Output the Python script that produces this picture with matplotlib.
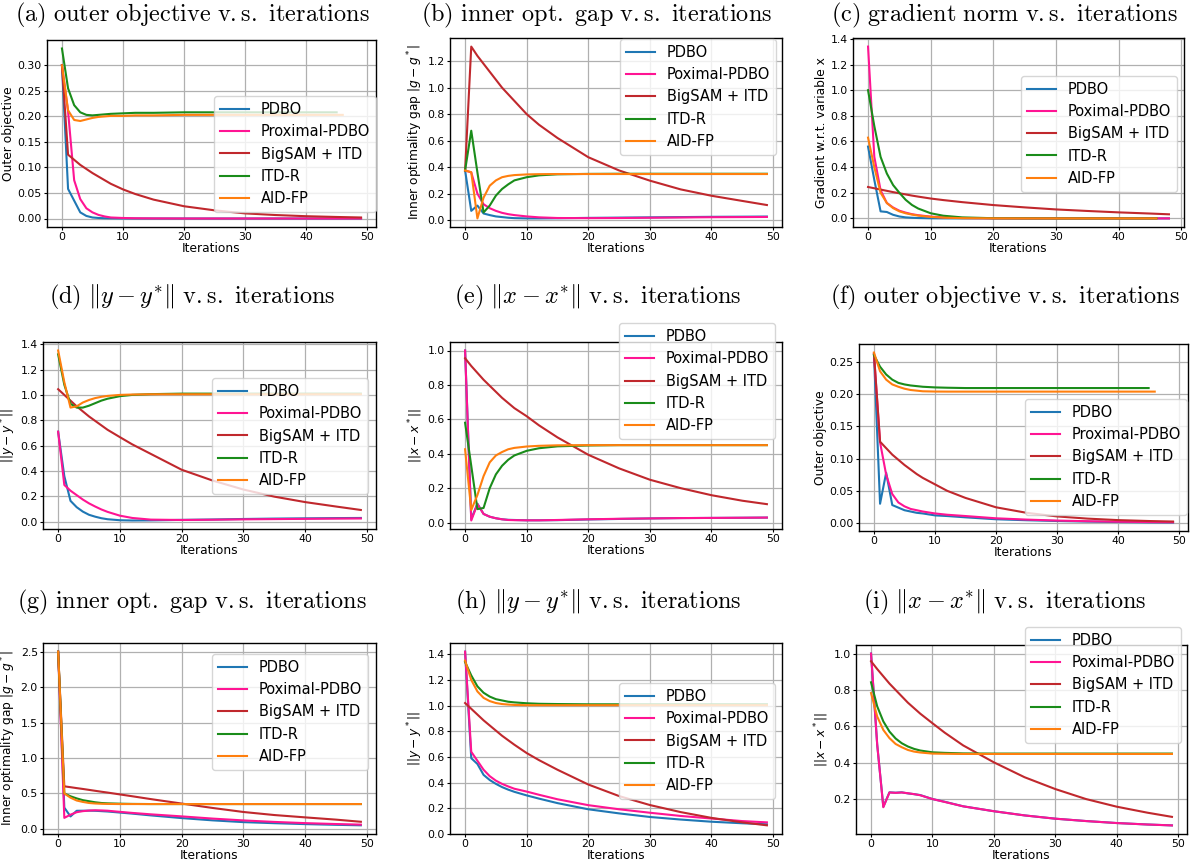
import matplotlib
matplotlib.use("Agg")
import matplotlib.pyplot as plt

plt.rcParams['mathtext.fontset'] = 'dejavusans'

W, H = 1193, 867

# ---------------- sample iterations ----------------
X49 = [0, 1, 2, 3, 4, 5, 6, 7, 8, 10, 12, 15, 20, 25, 30, 35, 40, 45, 49]
X48 = [0, 1, 2, 3, 4, 5, 6, 7, 8, 10, 12, 15, 20, 25, 30, 35, 40, 45, 48]
X46 = [0, 1, 2, 3, 4, 5, 6, 7, 8, 10, 12, 15, 20, 25, 30, 35, 40, 46]
X45 = [0, 1, 2, 3, 4, 5, 6, 7, 8, 10, 12, 15, 20, 25, 30, 35, 40, 45]

# ---------------- (a) outer objective ----------------
A_PDBO = [0.30, 0.058, 0.035, 0.012, 0.005, 0.002, 0.001, 0.0005, 0.0003, 0.0001, 0, 0, 0, 0, 0, 0, 0, 0, 0]
A_PROX = [0.30, 0.21, 0.075, 0.038, 0.02, 0.012, 0.007, 0.004, 0.002, 0.001, 0.0005, 0.0002, 0, 0, 0, 0, 0, 0, 0]
A_BIG = [0.30, 0.125, 0.115, 0.105, 0.097, 0.089, 0.082, 0.075, 0.068, 0.057, 0.048, 0.037, 0.024, 0.016, 0.010, 0.0068, 0.0045, 0.003, 0.002]
A_ITDR = [0.333, 0.255, 0.222, 0.208, 0.203, 0.202, 0.203, 0.204, 0.205, 0.206, 0.207, 0.207, 0.208, 0.208, 0.208, 0.208, 0.208, 0.208]
A_AID = [0.30, 0.212, 0.193, 0.191, 0.194, 0.197, 0.199, 0.200, 0.201, 0.201, 0.202, 0.202, 0.203, 0.203, 0.203, 0.203, 0.203, 0.203]

# ---------------- (b) inner opt. gap ----------------
B_PDBO = [0.375, 0.07, 0.11, 0.05, 0.038, 0.028, 0.023, 0.018, 0.015, 0.013, 0.013, 0.014, 0.017, 0.019, 0.021, 0.023, 0.025, 0.026, 0.027]
B_PROX = [0.375, 0.36, 0.2, 0.12, 0.09, 0.07, 0.055, 0.045, 0.038, 0.028, 0.021, 0.016, 0.015, 0.016, 0.018, 0.02, 0.022, 0.023, 0.024]
B_BIG = [0.375, 1.31, 1.24, 1.18, 1.12, 1.06, 1.0, 0.95, 0.90, 0.80, 0.72, 0.62, 0.475, 0.375, 0.298, 0.232, 0.184, 0.145, 0.114]
B_ITDR = [0.375, 0.675, 0.36, 0.058, 0.11, 0.185, 0.235, 0.27, 0.30, 0.324, 0.338, 0.346, 0.349, 0.35, 0.35, 0.35, 0.35, 0.35, 0.35]
B_AID = [0.375, 0.362, 0.013, 0.17, 0.26, 0.30, 0.324, 0.334, 0.34, 0.345, 0.347, 0.348, 0.348, 0.348, 0.348, 0.348, 0.348, 0.348, 0.348]

# ---------------- (c) gradient norm ----------------
C_PDBO = [0.56, 0.30, 0.055, 0.05, 0.028, 0.015, 0.008, 0.005, 0.003, 0.001, 0.0005, 0, 0, 0, 0, 0, 0, 0, 0]
C_PROX = [1.34, 0.48, 0.22, 0.12, 0.085, 0.06, 0.045, 0.033, 0.025, 0.014, 0.008, 0.003, 0.001, 0, 0, 0, 0, 0, 0]
C_BIG = [0.245, 0.235, 0.225, 0.215, 0.205, 0.196, 0.187, 0.178, 0.170, 0.155, 0.143, 0.127, 0.104, 0.086, 0.07, 0.058, 0.047, 0.038, 0.032]
C_ITDR = [1.0, 0.72, 0.48, 0.35, 0.26, 0.2, 0.145, 0.105, 0.077, 0.04, 0.021, 0.008, 0.0015, 0.0005, 0, 0, 0, 0]
C_AID = [0.63, 0.4, 0.2, 0.12, 0.08, 0.055, 0.04, 0.03, 0.022, 0.012, 0.006, 0.002, 0.0005, 0, 0, 0, 0, 0]

# ---------------- (d) ||y - y*|| ----------------
D_PDBO = [0.71, 0.36, 0.165, 0.115, 0.08, 0.055, 0.04, 0.028, 0.02, 0.012, 0.01, 0.011, 0.015, 0.018, 0.022, 0.025, 0.027, 0.029, 0.03]
D_PROX = [0.71, 0.29, 0.245, 0.21, 0.175, 0.145, 0.12, 0.097, 0.078, 0.048, 0.03, 0.017, 0.014, 0.016, 0.019, 0.021, 0.023, 0.025, 0.026]
D_BIG = [1.045, 1.0, 0.955, 0.91, 0.87, 0.83, 0.795, 0.76, 0.725, 0.667, 0.61, 0.535, 0.41, 0.325, 0.254, 0.198, 0.155, 0.12, 0.093]
D_ITDR = [1.32, 1.08, 0.93, 0.9, 0.9, 0.915, 0.935, 0.955, 0.97, 0.99, 1.0, 1.006, 1.01, 1.01, 1.01, 1.01, 1.01, 1.01, 1.01]
D_AID = [1.35, 1.1, 0.9, 0.91, 0.94, 0.96, 0.975, 0.985, 0.992, 1.0, 1.003, 1.005, 1.005, 1.005, 1.005, 1.005, 1.005, 1.005, 1.005]

# ---------------- (e) ||x - x*|| ----------------
E_PDBO = [1.0, 0.02, 0.11, 0.05, 0.034, 0.025, 0.019, 0.016, 0.015, 0.013, 0.013, 0.014, 0.018, 0.021, 0.024, 0.026, 0.027, 0.028, 0.029]
E_PROX = [1.0, 0.012, 0.107, 0.05, 0.034, 0.025, 0.019, 0.015, 0.014, 0.013, 0.013, 0.015, 0.019, 0.022, 0.024, 0.026, 0.027, 0.028, 0.029]
E_BIG = [0.955, 0.91, 0.87, 0.83, 0.795, 0.76, 0.725, 0.695, 0.665, 0.618, 0.565, 0.495, 0.394, 0.315, 0.249, 0.20, 0.159, 0.127, 0.107]
E_ITDR = [0.58, 0.33, 0.078, 0.085, 0.2, 0.28, 0.33, 0.365, 0.39, 0.417, 0.432, 0.443, 0.448, 0.45, 0.45, 0.45, 0.45, 0.45, 0.45]
E_AID = [0.426, 0.073, 0.16, 0.27, 0.35, 0.39, 0.41, 0.426, 0.434, 0.442, 0.446, 0.449, 0.45, 0.45, 0.45, 0.45, 0.45, 0.45, 0.45]

# ---------------- (f) outer objective ----------------
F_PDBO = [0.262, 0.03, 0.078, 0.028, 0.024, 0.02, 0.018, 0.016, 0.015, 0.012, 0.011, 0.009, 0.006, 0.0045, 0.0033, 0.0024, 0.0017, 0.0012, 0.001]
F_PROX = [0.262, 0.125, 0.075, 0.045, 0.032, 0.026, 0.022, 0.02, 0.018, 0.015, 0.013, 0.011, 0.0075, 0.0055, 0.004, 0.003, 0.0022, 0.0017, 0.0014]
F_BIG = [0.262, 0.126, 0.116, 0.106, 0.098, 0.09, 0.083, 0.076, 0.07, 0.060, 0.050, 0.039, 0.0245, 0.016, 0.0104, 0.007, 0.0047, 0.0033, 0.0025]
F_ITDR = [0.26, 0.242, 0.23, 0.222, 0.217, 0.2146, 0.213, 0.212, 0.211, 0.21, 0.2095, 0.209, 0.209, 0.209, 0.209, 0.209, 0.209, 0.209]
F_AID = [0.264, 0.235, 0.222, 0.2146, 0.211, 0.208, 0.206, 0.205, 0.204, 0.2036, 0.2035, 0.2035, 0.2035, 0.2035, 0.2035, 0.2035, 0.2035, 0.2035]

# ---------------- (g) inner opt. gap ----------------
G_PDBO = [2.5, 0.3, 0.175, 0.255, 0.256, 0.257, 0.255, 0.25, 0.245, 0.23, 0.215, 0.19, 0.152, 0.12, 0.095, 0.08, 0.067, 0.057, 0.05]
G_PROX = [2.5, 0.155, 0.2, 0.235, 0.25, 0.258, 0.262, 0.26, 0.256, 0.24, 0.225, 0.205, 0.176, 0.145, 0.119, 0.098, 0.081, 0.068, 0.06]
G_BIG = [2.5, 0.60, 0.588, 0.575, 0.563, 0.55, 0.537, 0.524, 0.512, 0.486, 0.46, 0.42, 0.357, 0.295, 0.238, 0.195, 0.162, 0.13, 0.10]
G_ITDR = [2.5, 0.5, 0.46, 0.43, 0.405, 0.39, 0.375, 0.365, 0.36, 0.355, 0.352, 0.35, 0.35, 0.35, 0.35, 0.35, 0.35, 0.35, 0.35]
G_AID = [2.5, 0.5, 0.44, 0.4, 0.38, 0.365, 0.358, 0.354, 0.352, 0.35, 0.35, 0.35, 0.35, 0.35, 0.35, 0.35, 0.35, 0.35, 0.35]

# ---------------- (h) ||y - y*|| ----------------
H_PDBO = [1.42, 0.59, 0.545, 0.46, 0.42, 0.39, 0.365, 0.345, 0.328, 0.30, 0.275, 0.24, 0.192, 0.16, 0.132, 0.112, 0.095, 0.083, 0.075]
H_PROX = [1.42, 0.64, 0.57, 0.5, 0.45, 0.415, 0.39, 0.37, 0.352, 0.33, 0.305, 0.27, 0.224, 0.192, 0.165, 0.14, 0.12, 0.1, 0.09]
H_BIG = [1.02, 0.975, 0.93, 0.885, 0.845, 0.805, 0.765, 0.73, 0.695, 0.63, 0.575, 0.5, 0.385, 0.295, 0.225, 0.17, 0.125, 0.09, 0.067]
H_ITDR = [1.34, 1.235, 1.15, 1.1, 1.07, 1.05, 1.04, 1.03, 1.025, 1.018, 1.014, 1.012, 1.01, 1.01, 1.01, 1.01, 1.01, 1.01, 1.01]
H_AID = [1.35, 1.2, 1.11, 1.06, 1.035, 1.02, 1.012, 1.008, 1.005, 1.003, 1.003, 1.003, 1.003, 1.003, 1.003, 1.003, 1.003, 1.003, 1.003]

# ---------------- (i) ||x - x*|| ----------------
I_PDBO = [1.0, 0.5, 0.158, 0.237, 0.235, 0.237, 0.231, 0.227, 0.222, 0.2, 0.185, 0.16, 0.133, 0.11, 0.092, 0.079, 0.068, 0.06, 0.055]
I_PROX = [1.0, 0.5, 0.155, 0.236, 0.234, 0.236, 0.232, 0.227, 0.221, 0.2, 0.184, 0.16, 0.133, 0.11, 0.092, 0.079, 0.068, 0.06, 0.055]
I_BIG = [0.958, 0.915, 0.875, 0.835, 0.8, 0.765, 0.73, 0.7, 0.67, 0.617, 0.565, 0.495, 0.402, 0.32, 0.255, 0.2, 0.158, 0.125, 0.102]
I_ITDR = [0.842, 0.71, 0.627, 0.571, 0.533, 0.507, 0.489, 0.476, 0.467, 0.457, 0.454, 0.451, 0.45, 0.45, 0.45, 0.45, 0.45, 0.45, 0.45]
I_AID = [0.783, 0.654, 0.58, 0.535, 0.503, 0.485, 0.47, 0.461, 0.456, 0.45, 0.449, 0.448, 0.448, 0.448, 0.448, 0.448, 0.448, 0.448, 0.448]

NAMES_PROX = ["PDBO", "Proximal-PDBO", "BigSAM + ITD", "ITD-R", "AID-FP"]
NAMES_POX = ["PDBO", "Poximal-PDBO", "BigSAM + ITD", "ITD-R", "AID-FP"]
COLORS = ["#1f77b4", "#ff1493", "#c0282d", "#1a8c1a", "#ff7f0e"]

TITLES = [
    r"$\mathrm{(a)\ outer\ objective\ v.s.\ iterations}$",
    r"$\mathrm{(b)\ inner\ opt.\ gap\ v.s.\ iterations}$",
    r"$\mathrm{(c)\ gradient\ norm\ v.s.\ iterations}$",
    r"$\mathrm{(d)}\ \|y-y^{*}\|\ \mathrm{v.s.\ iterations}$",
    r"$\mathrm{(e)}\ \|x-x^{*}\|\ \mathrm{v.s.\ iterations}$",
    r"$\mathrm{(f)\ outer\ objective\ v.s.\ iterations}$",
    r"$\mathrm{(g)\ inner\ opt.\ gap\ v.s.\ iterations}$",
    r"$\mathrm{(h)}\ \|y-y^{*}\|\ \mathrm{v.s.\ iterations}$",
    r"$\mathrm{(i)}\ \|x-x^{*}\|\ \mathrm{v.s.\ iterations}$",
]
YLABELS = [
    "Outer objective",
    r"Inner optimality gap $|g-g^*|$",
    "Gradient w.r.t. variable x",
    r"$||y-y^*||$",
    r"$||x-x^*||$",
    "Outer objective",
    r"Inner optimality gap $|g-g^*|$",
    r"$||y-y^*||$",
    r"$||x-x^*||$",
]

PANELS = [
    ([X49, X49, X49, X45, X46], [A_PDBO, A_PROX, A_BIG, A_ITDR, A_AID], NAMES_PROX),
    ([X49] * 5, [B_PDBO, B_PROX, B_BIG, B_ITDR, B_AID], NAMES_POX),
    ([X48, X48, X48, X46, X46], [C_PDBO, C_PROX, C_BIG, C_ITDR, C_AID], NAMES_POX),
    ([X49] * 5, [D_PDBO, D_PROX, D_BIG, D_ITDR, D_AID], NAMES_POX),
    ([X49] * 5, [E_PDBO, E_PROX, E_BIG, E_ITDR, E_AID], NAMES_POX),
    ([X49, X49, X49, X45, X46], [F_PDBO, F_PROX, F_BIG, F_ITDR, F_AID], NAMES_PROX),
    ([X49] * 5, [G_PDBO, G_PROX, G_BIG, G_ITDR, G_AID], NAMES_POX),
    ([X49] * 5, [H_PDBO, H_PROX, H_BIG, H_ITDR, H_AID], NAMES_POX),
    ([X49] * 5, [I_PDBO, I_PROX, I_BIG, I_ITDR, I_AID], NAMES_POX),
]

# layout (pixels): left, top, right, bottom
BOXES = [
    (47, 40, 376, 227), (450, 38, 782, 227), (853, 38, 1184, 227),
    (43, 342, 376, 529), (450, 342, 782, 529), (859, 344, 1188, 531),
    (43, 643, 376, 834), (450, 643, 782, 834), (856, 645, 1187, 834),
]
TITLE_POS = [(192, 15), (597, 15), (1004, 15),
             (192, 297), (598, 297), (1005, 297),
             (192, 602), (598, 602), (1005, 602)]
LEG_ANCHOR = [(1.0, 0.70), (0.982, 0.995), (0.979, 0.80),
              (0.976, 0.807), (0.979, 1.10), (0.997, 0.706),
              (0.976, 0.942), (0.979, 0.79), (0.982, 1.095)]

fig = plt.figure(figsize=(W / 100, H / 100), dpi=100)

for k in range(9):
    l, t, r, b = BOXES[k]
    ax = fig.add_axes([l / W, 1 - b / H, (r - l) / W, (b - t) / H])
    xs_list, ys_list, names = PANELS[k]
    for xs, ys, nm, c in zip(xs_list, ys_list, names, COLORS):
        ax.plot(xs, ys, color=c, lw=1.5, label=nm)
    ax.grid(True, color="#b0b0b0", lw=0.9)
    ax.set_axisbelow(True)
    ax.set_xticks([0, 10, 20, 30, 40, 50])
    ax.tick_params(labelsize=7.8, length=2.5, width=0.8, pad=1.2)
    ax.set_xlabel("Iterations", fontsize=8.8, labelpad=0)
    ax.set_ylabel(YLABELS[k], fontsize=8.8, labelpad=2)
    for sp in ax.spines.values():
        sp.set_linewidth(1.0)
    leg = ax.legend(loc="upper right", bbox_to_anchor=LEG_ANCHOR[k],
                    borderaxespad=0, fontsize=10.5, framealpha=0.8)
    leg.set_zorder(5)
    tx, ty = TITLE_POS[k]
    fig.text(tx / W, 1 - ty / H, TITLES[k], ha="center", va="center",
             fontsize=17.5, math_fontfamily="cm")

fig.savefig("out.png", dpi=100)
